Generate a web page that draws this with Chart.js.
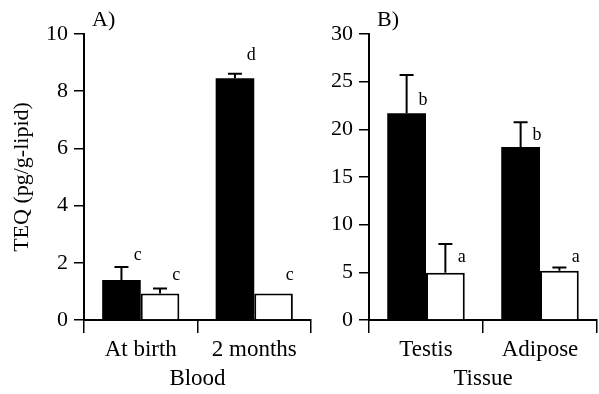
<!DOCTYPE html>
<html lang="en">
<head>
  <meta charset="UTF-8" />
  <title>TEQ in blood and tissue</title>
  <script src="https://cdn.jsdelivr.net/npm/chart.js"></script>
  <style>
    body { margin: 0; background: #fff; }
    .panel { position: absolute; top: 0; }
    #panelA { left: 0; }
    #panelB { left: 311px; }
  </style>
</head>
<body>
  <div class="panel" id="panelA"><canvas id="chartA" width="313" height="394"></canvas></div>
  <div class="panel" id="panelB"><canvas id="chartB" width="288" height="394"></canvas></div>

  <script>
    // Panel A - blood
    const bloodLabels = ['At birth', '2 months'];
    const bloodBlack = [1.4, 8.45];
    const bloodBlackErr = [0.45, 0.16];
    const bloodWhite = [0.93, 0.93];
    const bloodWhiteErr = [0.17, 0];
    const bloodBlackLetters = ['c', 'd'];
    const bloodBlackLetterY = [2.27, 9.27];
    const bloodWhiteLetters = ['c', 'c'];
    const bloodWhiteLetterY = [1.57, 1.57];
    const bloodTicks = [0, 2, 4, 6, 8, 10];

    // Panel B - tissue
    const tissueLabels = ['Testis', 'Adipose'];
    const tissueBlack = [21.7, 18.15];
    const tissueBlackErr = [4.0, 2.6];
    const tissueWhite = [4.96, 5.17];
    const tissueWhiteErr = [3.0, 0.35];
    const tissueBlackLetters = ['b', 'b'];
    const tissueBlackLetterY = [23.1, 19.4];
    const tissueWhiteLetters = ['a', 'a'];
    const tissueWhiteLetterY = [6.6, 6.6];
    const tissueTicks = [0, 5, 10, 15, 20, 25, 30];

    const FONT = 'Liberation Serif';

    // error bars, significance letters and the panel tag
    const extras = {
      id: 'extras',
      afterDatasetsDraw(chart, args, opts) {
        const ctx = chart.ctx;
        const y = chart.scales.y;
        ctx.save();
        ctx.strokeStyle = '#000';
        ctx.fillStyle = '#000';
        ctx.lineWidth = 2;
        chart.data.datasets.forEach((ds, i) => {
          const meta = chart.getDatasetMeta(i);
          meta.data.forEach((bar, j) => {
            const err = ds.errors[j];
            if (!err) return;
            const top = y.getPixelForValue(ds.data[j] + err);
            ctx.beginPath();
            ctx.moveTo(bar.x, bar.y);
            ctx.lineTo(bar.x, top);
            ctx.moveTo(bar.x - 7, top);
            ctx.lineTo(bar.x + 7, top);
            ctx.stroke();
          });
        });

        ctx.font = '18px "' + FONT + '"';
        ctx.textAlign = 'center';
        ctx.textBaseline = 'middle';
        chart.data.datasets.forEach((ds, i) => {
          const meta = chart.getDatasetMeta(i);
          meta.data.forEach((bar, j) => {
            ctx.fillText(ds.letters[j], bar.x + bar.width / 2 - 3, y.getPixelForValue(ds.letterY[j]));
          });
        });

        ctx.font = '22px "' + FONT + '"';
        ctx.textAlign = 'left';
        ctx.fillText(opts.tag, chart.chartArea.left + 8, chart.chartArea.top - 14);
        ctx.restore();
      }
    };

    function makeChart(id, cfg) {
      const ctx = document.getElementById(id).getContext('2d');
      return new Chart(ctx, {
        type: 'bar',
        data: {
          labels: cfg.labels,
          datasets: [
            {
              data: cfg.black,
              errors: cfg.blackErr,
              letters: cfg.blackLetters,
              letterY: cfg.blackLetterY,
              backgroundColor: '#000',
              borderColor: '#000',
              borderWidth: 0
            },
            {
              data: cfg.white,
              errors: cfg.whiteErr,
              letters: cfg.whiteLetters,
              letterY: cfg.whiteLetterY,
              backgroundColor: '#fff',
              borderColor: '#000',
              borderWidth: 2
            }
          ]
        },
        options: {
          responsive: false,
          animation: false,
          categoryPercentage: 0.68,
          barPercentage: 1,
          layout: { padding: { top: 34, right: 2, left: 0, bottom: 0 } },
          plugins: {
            legend: { display: false },
            tooltip: { enabled: false },
            extras: { tag: cfg.tag }
          },
          scales: {
            x: {
              offset: true,
              grid: { display: true, drawOnChartArea: false, drawTicks: true, tickLength: 13, color: '#000', lineWidth: 1.5, offset: true },
              border: { display: true, color: '#000', width: 2 },
              ticks: { color: '#000', font: { family: FONT, size: 23 }, padding: 3 },
              title: { display: true, text: cfg.xTitle, color: '#000', font: { family: FONT, size: 23 }, padding: { top: 0, bottom: 1 } },
              afterFit(axis) { axis.height = 74; }
            },
            y: {
              min: 0,
              max: cfg.ticks[cfg.ticks.length - 1],
              grid: { drawOnChartArea: false, tickLength: 10, color: '#000', lineWidth: 1.5 },
              border: { display: true, color: '#000', width: 2 },
              ticks: { color: '#000', font: { family: FONT, size: 22 }, padding: 6 },
              title: { display: !!cfg.yTitle, text: cfg.yTitle || '', color: '#000', font: { family: FONT, size: 22 }, padding: { top: 9, bottom: 0 } },
              afterBuildTicks(axis) { axis.ticks = cfg.ticks.map(v => ({ value: v })); },
              afterFit(axis) { axis.width = cfg.yWidth; }
            }
          }
        },
        plugins: [extras]
      });
    }

    makeChart('chartA', {
      tag: 'A)',
      labels: bloodLabels,
      black: bloodBlack, blackErr: bloodBlackErr,
      white: bloodWhite, whiteErr: bloodWhiteErr,
      blackLetters: bloodBlackLetters, blackLetterY: bloodBlackLetterY,
      whiteLetters: bloodWhiteLetters, whiteLetterY: bloodWhiteLetterY,
      ticks: bloodTicks,
      xTitle: 'Blood',
      yTitle: 'TEQ (pg/g-lipid)',
      yWidth: 84
    });

    makeChart('chartB', {
      tag: 'B)',
      labels: tissueLabels,
      black: tissueBlack, blackErr: tissueBlackErr,
      white: tissueWhite, whiteErr: tissueWhiteErr,
      blackLetters: tissueBlackLetters, blackLetterY: tissueBlackLetterY,
      whiteLetters: tissueWhiteLetters, whiteLetterY: tissueWhiteLetterY,
      ticks: tissueTicks,
      xTitle: 'Tissue',
      yWidth: 58
    });
  </script>
</body>
</html>
